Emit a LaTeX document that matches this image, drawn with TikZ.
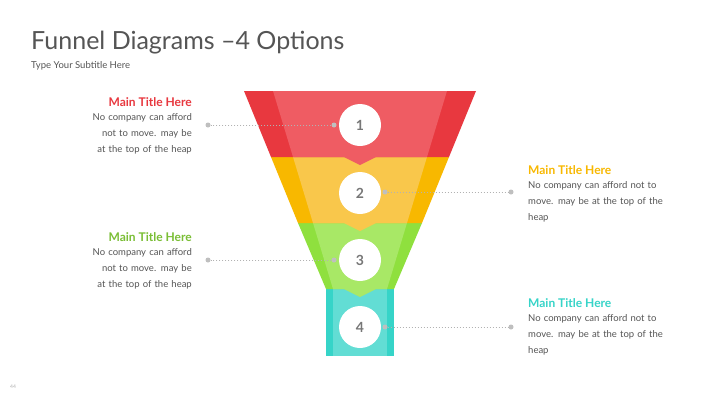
\documentclass[tikz,border=0pt]{standalone}
\usepackage{fontspec}
\setmainfont{Lato}
\definecolor{rD}{HTML}{E8383F}\definecolor{rL}{HTML}{EF5C63}
\definecolor{oD}{HTML}{F8B800}\definecolor{oL}{HTML}{F9C74B}
\definecolor{gD}{HTML}{8FE03E}\definecolor{gL}{HTML}{A8E866}
\definecolor{tD}{HTML}{36D4C8}\definecolor{tL}{HTML}{62DDD4}
\definecolor{txt}{HTML}{555555}
\begin{document}
\begin{tikzpicture}[x=1pt,y=-1pt,
  num/.style={circle,fill=white,minimum size=42pt,inner sep=0pt,font=\bfseries\fontsize{14}{14}\selectfont,text=txt!80},
  lead/.style={draw=black!30,dotted,line width=1pt},
  pin/.style={circle,fill=black!25,inner sep=0pt,minimum size=5pt},
  head/.style={font=\bfseries\fontsize{12}{14}\selectfont},
  body/.style={font=\fontsize{9.5}{16}\selectfont,text=txt,align=#1,text width=150pt,inner sep=0pt}]
\useasboundingbox (0,0) rectangle (720,405);
\fill[white] (0,0) rectangle (720,405);
\node[anchor=base west,inner sep=0pt,font=\fontsize{25}{25}\selectfont,text=txt] (title) at (31,49) {Funnel Diagrams –4 Options};
\node[anchor=base west,inner sep=0pt,font=\fontsize{9.5}{10}\selectfont,text=txt] (sub) at (31,68) {Type Your Subtitle Here};
\node[anchor=base west,inner sep=0pt,font=\fontsize{5}{5}\selectfont,text=black!30] (pg) at (10,388) {44};
% teal
\fill[tD] (326,289) rectangle (394,356);
\fill[tL] (333,289) rectangle (387,356);
% green
\fill[gD] (298,223) -- (422,223) -- (394,289) -- (326,289) -- cycle;
\fill[gL] (313,223) -- (407,223) -- (387,289) -- (376,289) -- (360,297) -- (344,289) -- (333,289) -- cycle;
% orange
\fill[oD] (271,157) -- (449,157) -- (422,223) -- (298,223) -- cycle;
\fill[oL] (293,157) -- (427,157) -- (407,223) -- (376,223) -- (360,231) -- (344,223) -- (313,223) -- cycle;
% red
\fill[rD] (244,91) -- (476,91) -- (449,157) -- (271,157) -- cycle;
\fill[rL] (273,91) -- (447,91) -- (427,157) -- (376,157) -- (360,165) -- (344,157) -- (293,157) -- cycle;
\node[num] (n1) at (360,125) {1};
\node[num] (n2) at (360,193) {2};
\node[num] (n3) at (360,260) {3};
\node[num] (n4) at (360,327) {4};
% pins
\node[pin] (a1) at (334,125) {}; \node[pin] (b1) at (208,125) {};
\node[pin] (a2) at (385,192) {}; \node[pin] (b2) at (511,192) {};
\node[pin] (a3) at (334,260) {}; \node[pin] (b3) at (208,260) {};
\node[pin] (a4) at (385,327) {}; \node[pin] (b4) at (511,327) {};
\draw[lead] (a1) -- (b1); \draw[lead] (a2) -- (b2);
\draw[lead] (a3) -- (b3); \draw[lead] (a4) -- (b4);
% texts
\node[head,text=rD,anchor=base east,inner sep=0pt] (h1) at (192,106) {Main Title Here};
\node[body=right,anchor=north east] (t1) at (192,113) {No company can afford not to move. may be at the top of the heap};
\node[head,text=oD,anchor=base west,inner sep=0pt] (h2) at (528,174) {Main Title Here};
\node[body=left,anchor=north west] (t2) at (528,181) {No company can afford not to move. may be at the top of the heap};
\node[head,text=gD!85!black,anchor=base east,inner sep=0pt] (h3) at (192,241) {Main Title Here};
\node[body=right,anchor=north east] (t3) at (192,248) {No company can afford not to move. may be at the top of the heap};
\node[head,text=tD,anchor=base west,inner sep=0pt] (h4) at (528,307) {Main Title Here};
\node[body=left,anchor=north west] (t4) at (528,314) {No company can afford not to move. may be at the top of the heap};
\end{tikzpicture}
\end{document}
